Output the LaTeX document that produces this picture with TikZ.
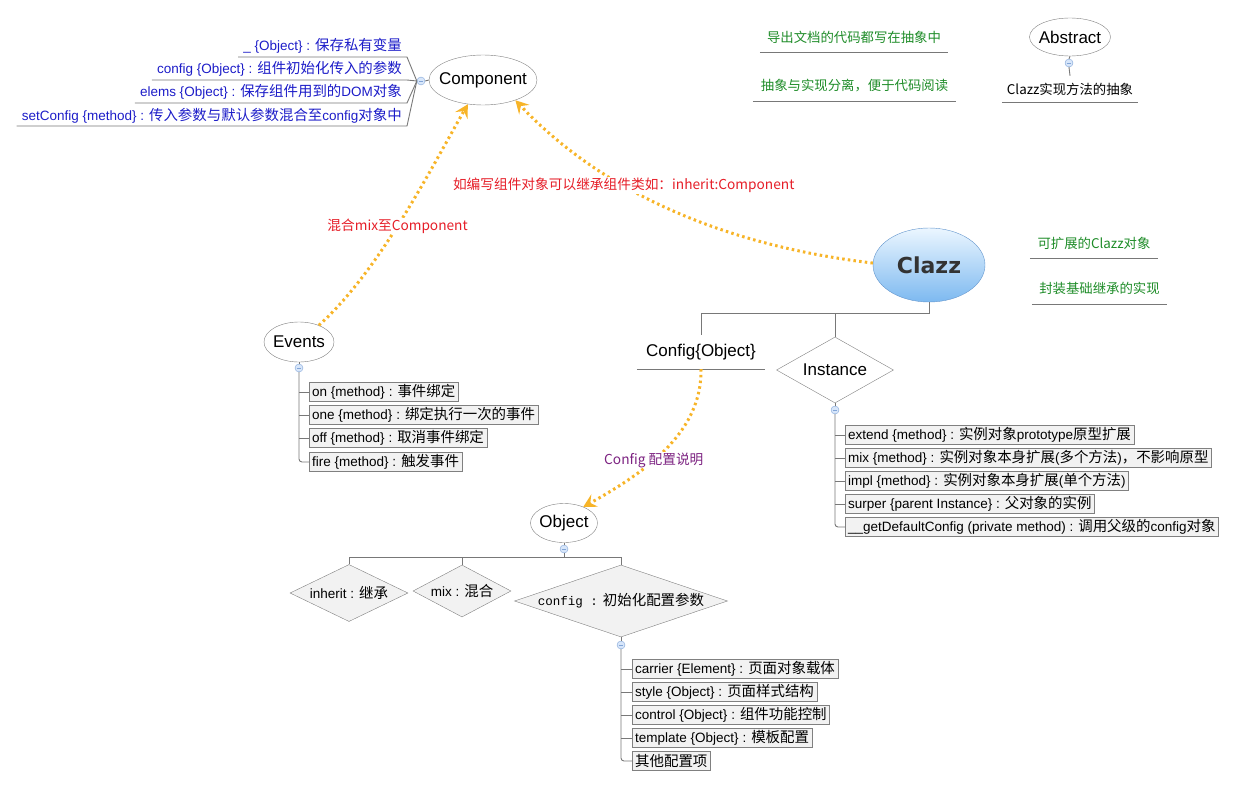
\documentclass[tikz,border=0pt]{standalone}
\usepackage{fontspec}
\setmainfont{Liberation Sans}
\newfontfamily\cjk[Scale=1.07]{Noto Sans CJK SC}
\newfontfamily\cfgmono{Liberation Mono}
\newfontfamily\clazzfont{DejaVu Sans}
\usepackage{tikz}
\usetikzlibrary{shapes.geometric, arrows.meta}
\newcommand{\zh}[1]{{\cjk #1}}

\definecolor{nodegray}{RGB}{128,128,128}
\definecolor{branchgray}{RGB}{120,120,120}
\definecolor{boxfill}{RGB}{242,242,242}
\definecolor{propblue}{RGB}{28,28,200}
\definecolor{notegreen}{RGB}{30,140,40}
\definecolor{linkred}{RGB}{230,30,40}
\definecolor{cfgpurple}{RGB}{125,35,130}
\definecolor{linkorange}{RGB}{247,180,40}
\definecolor{folddraw}{RGB}{130,165,215}
\definecolor{foldfill}{RGB}{215,230,250}
\definecolor{clazzline}{RGB}{100,150,205}
\definecolor{clazztop}{RGB}{235,246,255}
\definecolor{clazzbottom}{RGB}{125,185,240}
\definecolor{clazztext}{RGB}{51,51,51}

\begin{document}
\begin{tikzpicture}[x=1pt, y=-1pt,
    topic/.style={ellipse, draw=nodegray, fill=white, inner xsep=-2pt, inner ysep=0pt, font=\fontsize{17}{20}\selectfont},
    choice/.style={diamond, draw=nodegray, fill=white, inner sep=0pt, font=\fontsize{17}{20}\selectfont},
    subchoice/.style={diamond, draw=nodegray, fill=boxfill, inner sep=0pt, font=\fontsize{13.5}{16}\selectfont},
    item/.style={rectangle, draw=nodegray, fill=boxfill, anchor=west, inner xsep=3pt, inner ysep=0pt, minimum height=19pt, font=\fontsize{13.5}{16}\selectfont},
    prop/.style={anchor=south east, inner xsep=5pt, inner ysep=3pt, text=propblue, font=\fontsize{13.5}{16}\selectfont},
    note/.style={inner sep=0pt, text=notegreen, font=\cjk\fontsize{12.5}{15}\selectfont},
    fold/.style={circle, draw=folddraw, fill=foldfill, minimum size=8pt, inner sep=0pt,
        path picture={\draw[folddraw] ([xshift=-2.2pt]path picture bounding box.center) -- ([xshift=2.2pt]path picture bounding box.center);}},
    branch/.style={draw=branchgray, line width=0.9pt},
    link/.style={draw=linkorange, line width=3pt, dash pattern=on 2.5pt off 3.2pt, -{Stealth[length=13pt, width=14pt, inset=5pt]}},
    linklabel/.style={fill=white, inner sep=1pt, font=\cjk\fontsize{12.8}{15}\selectfont}]
\useasboundingbox (0,0) rectangle (1238,787);

\node[note, minimum width=188pt, minimum height=30pt] (export) at (854,37) {导出文档的代码都写在抽象中};
\node[note, minimum width=203pt, minimum height=30pt] (split) at (854.5,86) {抽象与实现分离，便于代码阅读};
\draw[branch] (export.south west) -- (export.south east);
\draw[branch] (split.south west) -- (split.south east);

\node[topic, inner xsep=-3pt, minimum width=81pt, minimum height=38pt] (abstract) at (1070,37) {Abstract};
\node[fold] (absfold) at (1069,63) {};
\node[inner sep=0pt, minimum width=136pt, minimum height=26pt, font=\cjk\fontsize{12.5}{15}\selectfont] (absimpl) at (1070,89) {Clazz实现方法的抽象};
\draw[branch] (abstract.south) -- (absfold.north);
\draw[branch] (absfold.south) -- (absimpl.north);
\draw[branch] (absimpl.south west) -- (absimpl.south east);

\node[topic, inner xsep=-6pt, minimum width=108pt, minimum height=50pt] (comp) at (483,80) {Component};
\node[fold] (compfold) at (421,81) {};
\node[prop] (p1) at (407,57) {\_ \{Object\} : \zh{保存私有变量}};
\node[prop] (p2) at (407,80) {config \{Object\} : \zh{组件初始化传入的参数}};
\node[prop] (p3) at (407,103) {elems \{Object\} : \zh{保存组件用到的}DOM\zh{对象}};
\node[prop] (p4) at (407,126) {setConfig \{method\} : \zh{传入参数与默认参数混合至}config\zh{对象中}};
\draw[branch] (compfold.east) -- (comp.west);
\foreach \p in {p1,p2,p3,p4}
    \draw[branch] (\p.south west) -- (\p.south east) -- (compfold.west);

\node[ellipse, draw=clazzline, top color=clazztop, bottom color=clazzbottom, minimum width=112pt, minimum height=74pt, inner sep=0pt,
    text=clazztext, font=\clazzfont\bfseries\fontsize{22}{26}\selectfont] (clazz) at (929,265) {Clazz};
\node[note, minimum width=128pt, minimum height=30pt] (extclazz) at (1094,243) {可扩展的Clazz对象};
\node[note, minimum width=135pt, minimum height=32pt] (baseimpl) at (1099.5,288) {封装基础继承的实现};
\draw[branch] (extclazz.south west) -- (extclazz.south east);
\draw[branch] (baseimpl.south west) -- (baseimpl.south east);

\node[inner sep=0pt, minimum width=128pt, minimum height=34pt, font=\fontsize{17}{20}\selectfont] (cfgobj) at (701,352) {Config\{Object\}};
\draw[branch] (cfgobj.south west) -- (cfgobj.south east);
\node[choice, aspect=1.8, minimum width=117pt, minimum height=66pt] (inst) at (835,370) {Instance};
\coordinate (clazzbus) at (929,313);
\draw[branch] (clazz.south) -- (clazzbus) -| (cfgobj.north);
\draw[branch] (clazzbus) -| (inst.north);

\node[fold] (instfold) at (835,410) {};
\node[item] (i1) at (845,435) {extend \{method\} : \zh{实例对象}prototype\zh{原型扩展}};
\node[item] (i2) at (845,458) {mix \{method\} : \zh{实例对象本身扩展}(\zh{多个方法})\zh{，不影响原型}};
\node[item] (i3) at (845,481) {impl \{method\} : \zh{实例对象本身扩展}(\zh{单个方法})};
\node[item] (i4) at (845,504) {surper \{parent Instance\} : \zh{父对象的实例}};
\node[item] (i5) at (845,527) {\_\_getDefaultConfig (private method) : \zh{调用父级的}config\zh{对象}};
\draw[branch] (inst.south) -- (instfold.north);
\draw[branch, rounded corners=3pt] (instfold.south) |- (i5.west);
\foreach \n in {i1,i2,i3,i4}
    \draw[branch] (instfold.south |- \n.west) -- (\n.west);

\node[topic, minimum width=70pt, minimum height=40pt] (events) at (299,342) {Events};
\node[fold] (evfold) at (299,368) {};
\node[item] (e1) at (309,392) {on \{method\} : \zh{事件绑定}};
\node[item] (e2) at (309,415) {one \{method\} : \zh{绑定执行一次的事件}};
\node[item] (e3) at (309,438) {off \{method\} : \zh{取消事件绑定}};
\node[item] (e4) at (309,462) {fire \{method\} : \zh{触发事件}};
\draw[branch] (events.south) -- (evfold.north);
\draw[branch, rounded corners=3pt] (evfold.south) |- (e4.west);
\foreach \n in {e1,e2,e3}
    \draw[branch] (evfold.south |- \n.west) -- (\n.west);

\node[topic, minimum width=67pt, minimum height=39pt] (obj) at (564,523) {Object};
\node[fold] (objfold) at (564,549) {};
\node[subchoice, aspect=2, minimum width=118pt, minimum height=57pt] (inh) at (349,593) {inherit : \zh{继承}};
\node[subchoice, aspect=1.9, minimum width=98pt, minimum height=52pt] (mixd) at (462,591) {mix : \zh{混合}};
\node[subchoice, aspect=3, minimum width=213pt, minimum height=72pt] (cfgd) at (621,601) {{\cfgmono\fontsize{12.5}{15}\selectfont config :} \zh{初始化配置参数}};
\coordinate (objbus) at (564,557);
\draw[branch] (obj.south) -- (objfold.north);
\draw[branch] (objfold.south) -- (objbus) -| (inh.north);
\draw[branch] (objbus) -| (mixd.north);
\draw[branch] (objbus) -| (cfgd.north);

\node[fold] (cfgfold) at (621,645) {};
\node[item] (c1) at (632,669) {carrier \{Element\} : \zh{页面对象载体}};
\node[item] (c2) at (632,692) {style \{Object\} : \zh{页面样式结构}};
\node[item] (c3) at (632,715) {control \{Object\} : \zh{组件功能控制}};
\node[item] (c4) at (632,738) {template \{Object\} : \zh{模板配置}};
\node[item] (c5) at (632,761) {\zh{其他配置项}};
\draw[branch] (cfgd.south) -- (cfgfold.north);
\draw[branch, rounded corners=3pt] (cfgfold.south) |- (c5.west);
\foreach \n in {c1,c2,c3,c4}
    \draw[branch] (cfgfold.south |- \n.west) -- (\n.west);

\draw[link] (events.40) .. controls (380,270) and (430,170) .. (comp.238)
    node[linklabel, text=linkred, pos=0.47] (mixlabel) {混合mix至Component};
\draw[link] (clazz.178) .. controls (720,245) and (600,190) .. (comp.328)
    node[linklabel, text=linkred, pos=0.63] (inhlabel) {如编写组件对象可以继承组件类如：inherit:Component};
\draw[link] (cfgobj.south) .. controls (702,430) and (650,470) .. (obj.40)
    node[linklabel, text=cfgpurple, pos=0.6] (cfglabel) {Config 配置说明};
\end{tikzpicture}
\end{document}
